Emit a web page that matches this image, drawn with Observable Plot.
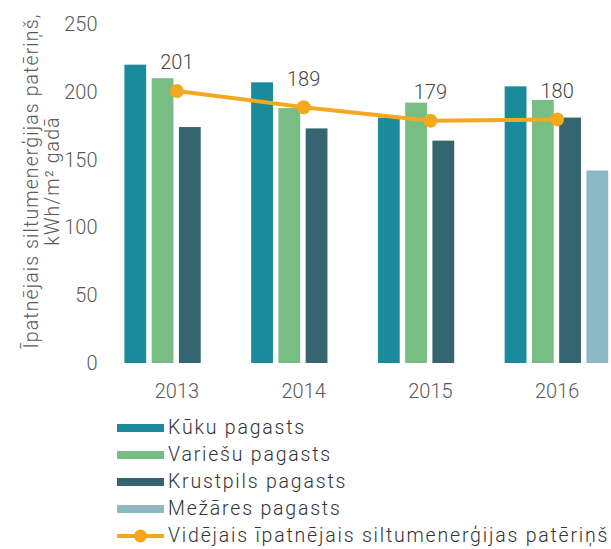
<!DOCTYPE html>
<html>
<head>
<meta charset="utf-8">
<script src="https://cdn.jsdelivr.net/npm/d3@7"></script>
<script src="https://cdn.jsdelivr.net/npm/@observablehq/plot@0.6"></script>
<style>
  html, body { margin: 0; padding: 0; background: #fff; overflow: hidden; }
  #chart svg { overflow: hidden; display: block; }
  #legend { margin-left: 117px; margin-top: 4px; font-family: Roboto, "Open Sans", sans-serif; font-weight: 300; font-size: 19.5px; color: #333; letter-spacing: 1.8px; white-space: nowrap; }
  .row { height: 27px; display: flex; align-items: center; }
  .sw { width: 47px; height: 8px; margin-right: 4px; flex: none; }
  .row svg { margin-right: 4px; flex: none; }
</style>
</head>
<body>
<div id="chart"></div>
<div id="legend"></div>
<script>
const years = ["2013", "2014", "2015", "2016"];
const series = ["Kūku pagasts", "Variešu pagasts", "Krustpils pagasts", "Mežāres pagasts"];
const kuku = [220, 207, 181, 204];
const variesu = [210, 188, 192, 194];
const krustpils = [174, 173, 164, 181];
const mezares = [null, null, null, 142];
const average = [201, 189, 179, 180];
const averageName = "Vidējais īpatnējais siltumenerģijas patēriņš";
const yTicks = [0, 50, 100, 150, 200, 250];
const yLabel = "Īpatnējais siltumenerģijas patēriņš,\nkWh/m² gadā";

const colors = ["#1B8A9B", "#78BE84", "#346570", "#8DB9C5"];
const orange = "#F4A81D";

const values = [kuku, variesu, krustpils, mezares];
const rows = [];
series.forEach((s, k) => years.forEach((yr, i) => {
  const v = values[k][i];
  if (v != null) rows.push({series: s, k, i, value: v});
}));
const avgRows = average.map((v, i) => ({i, value: v}));

const start = 0.09, step = 0.215, bw = 0.172;

const chart = Plot.plot({
  width: 611,
  height: 410,
  marginLeft: 113,
  marginRight: -9,
  marginTop: 24,
  marginBottom: 47,
  style: {fontFamily: "Roboto, sans-serif", fontSize: "20px", fontWeight: 300, color: "#5a5a5a", background: "#fff"},
  x: {domain: [-0.5, 3.5], ticks: [0, 1, 2, 3], tickFormat: i => years[i], tickSize: 0, tickPadding: 20, label: null},
  y: {domain: [0, 250], ticks: yTicks, tickSize: 0, tickPadding: 16, label: null},
  color: {domain: series, range: colors},
  marks: [
    Plot.rectY(rows, {
      x1: d => d.i - 0.5 + start + d.k * step,
      x2: d => d.i - 0.5 + start + d.k * step + bw,
      y: "value",
      fill: "series"
    }),
    Plot.line(avgRows, {x: "i", y: "value", stroke: orange, strokeWidth: 4}),
    Plot.dot(avgRows, {x: "i", y: "value", r: 7, fill: orange}),
    Plot.text(avgRows, {x: "i", y: "value", text: d => String(d.value), dy: -28, fill: "#454545", fontSize: 20, fontWeight: 300}),
    Plot.text([yLabel], {frameAnchor: "left", textAnchor: "middle", lineAnchor: "middle", rotate: -90, dx: -72, dy: -13, fontSize: 19.5, lineHeight: 1.1, fill: "#5a5a5a", fontWeight: 300})
  ]
});
document.getElementById("chart").appendChild(chart);
d3.select(chart).selectAll("text")
  .filter(function() { return this.textContent.includes("kWh"); })
  .style("letter-spacing", "1.1px");

const legend = document.getElementById("legend");
series.forEach((s, k) => {
  const row = document.createElement("div");
  row.className = "row";
  const sw = document.createElement("span");
  sw.className = "sw";
  sw.style.background = colors[k];
  row.appendChild(sw);
  row.appendChild(document.createTextNode(s));
  legend.appendChild(row);
});
const lr = document.createElement("div");
lr.className = "row";
lr.innerHTML = `<svg width="47" height="16"><line x1="0" y1="8" x2="47" y2="8" stroke="${orange}" stroke-width="4"/><circle cx="23.5" cy="8" r="6.5" fill="${orange}"/></svg>`;
lr.appendChild(document.createTextNode(averageName));
legend.appendChild(lr);
</script>
</body>
</html>
